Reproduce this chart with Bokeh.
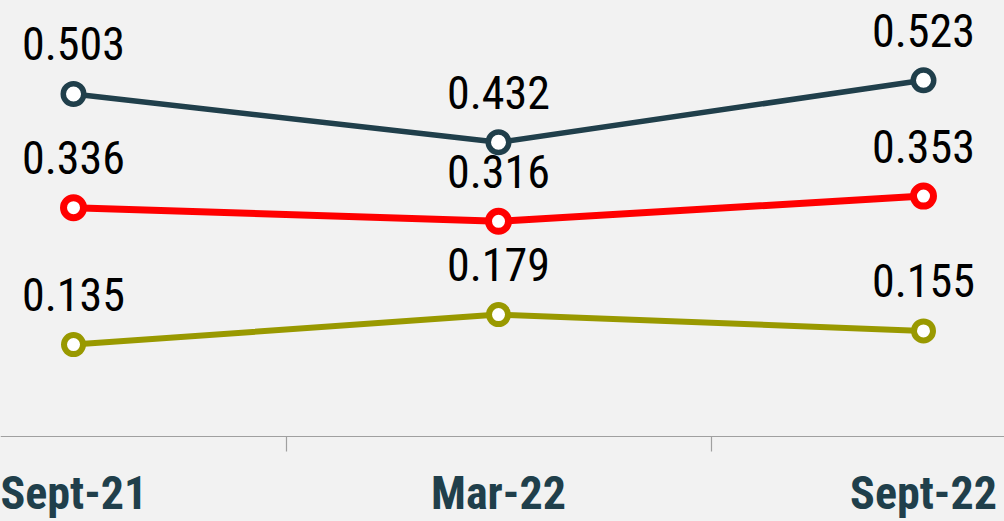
from bokeh.plotting import figure
from bokeh.models import ColumnDataSource, FixedTicker, Range1d
from bokeh.core.properties import value
from bokeh.embed import file_html
from bokeh.resources import INLINE

# ---- data ----
categories = ["Sept-21", "Mar-22", "Sept-22"]
series_teal = [0.503, 0.432, 0.523]
series_red = [0.336, 0.316, 0.353]
series_olive = [0.135, 0.179, 0.155]

BG = "#f2f2f2"
TEAL = "#203f4b"
RED = "#ff0000"
OLIVE = "#999900"
FONT = "'Liberation Sans Narrow', 'Arial Narrow', 'Roboto Condensed', sans-serif"

xs = list(range(len(categories)))

p = figure(width=1004, height=521, output_backend="svg", toolbar_location=None,
           x_range=Range1d(-0.1718, 2.1906), y_range=Range1d(-0.1248, 0.6402),
           y_axis_location=None, min_border=0,
           background_fill_color=BG, border_fill_color=BG, outline_line_color=None)
p.xgrid.visible = False
p.ygrid.visible = False

ax = p.xaxis[0]
ax.fixed_location = 0
ax.ticker = FixedTicker(ticks=xs, minor_ticks=[i + 0.5 for i in xs[:-1]])
ax.major_label_overrides = {i: c for i, c in zip(xs, categories)}
ax.axis_line_color = "#a0a0a0"
ax.axis_line_width = 1.2
ax.major_tick_out = 0
ax.major_tick_in = 0
ax.minor_tick_out = 15
ax.minor_tick_in = 0
ax.minor_tick_line_color = "#a0a0a0"
ax.minor_tick_line_width = 1.2
ax.major_label_standoff = 14
ax.major_label_text_font = FONT
ax.major_label_text_font_style = "bold"
ax.major_label_text_font_size = "46px"
ax.major_label_text_color = TEAL

for vals, color, lw, size in [(series_teal, TEAL, 5.5, 20.5),
                              (series_red, RED, 7, 20),
                              (series_olive, OLIVE, 6, 19)]:
    src = ColumnDataSource(dict(x=xs, y=vals, lab=[f"{v:.3f}" for v in vals]))
    p.line("x", "y", source=src, line_width=lw, line_color=color)
    p.scatter("x", "y", source=src, marker="circle", size=size, line_width=lw,
              line_color=color, fill_color="white")
    p.text("x", "y", text="lab", source=src, text_align="center",
           text_baseline="alphabetic", y_offset=-50,
           text_font=value(FONT), text_font_size="46px", text_color="black")

template = """{% block postamble %}<style>html, body { background: #f2f2f2; }</style>{% endblock %}"""
open("out.html", "w").write(file_html(p, INLINE, title="chart", template=template))
